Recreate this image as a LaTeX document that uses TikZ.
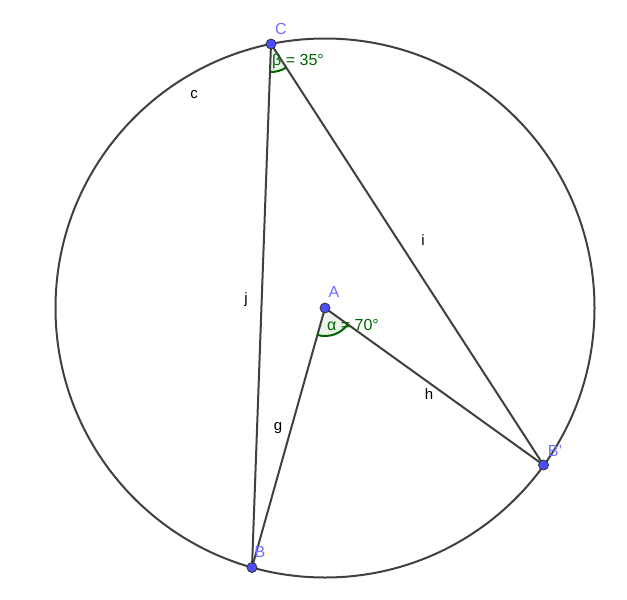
\documentclass[tikz,border=0pt]{standalone}
\usepackage{fontspec}
\setmainfont{Liberation Sans}
\usetikzlibrary{angles,quotes}
\definecolor{seg}{RGB}{64,64,64}
\definecolor{ptfill}{RGB}{77,77,255}
\definecolor{ptlab}{RGB}{110,110,255}
\definecolor{anggreen}{RGB}{0,100,0}
\tikzset{
  segline/.style={draw=seg, line width=2pt},
  ptdot/.style={circle, fill=ptfill, draw=black!80, line width=0.8pt, inner sep=0pt, minimum size=10pt},
  ptlabel/.style={text=ptlab, font=\fontsize{16}{18}\selectfont, inner sep=0pt},
  seglabel/.style={text=black, font=\fontsize{15}{17}\selectfont, inner sep=0pt},
  anglabel/.style={text=anggreen, font=\fontsize{16}{18}\selectfont, inner sep=0pt},
  angmark/.style={draw=anggreen, line width=2pt, fill=anggreen, fill opacity=0.08, angle radius=28pt}
}
\begin{document}
\begin{tikzpicture}[x=1pt,y=-1pt]
\useasboundingbox (0,0) rectangle (627,600);
\coordinate (A) at (325,308);
\coordinate (B) at (252,567.5);
\coordinate (C) at (271,44);
\coordinate (Bp) at (543.5,465);
\draw[segline] (A) circle (269.5);
\draw[segline] (C) -- (B);
\draw[segline] (C) -- (Bp);
\draw[segline] (A) -- (B);
\draw[segline] (A) -- (Bp);
\pic[angmark] {angle = B--C--Bp};
\pic[angmark] {angle = B--A--Bp};
\node[anglabel] (beta) at (298,61) {β = 35°};
\node[anglabel] (alpha) at (353,325) {α = 70°};
\node[seglabel] (lc) at (194,95) {c};
\node[seglabel] (lj) at (246,300) {j};
\node[seglabel] (li) at (423,240) {i};
\node[seglabel] (lh) at (429,394) {h};
\node[seglabel] (lg) at (278,428) {g};
\node[ptdot] (pA) at (A) {};
\node[ptdot] (pB) at (B) {};
\node[ptdot] (pC) at (C) {};
\node[ptdot] (pBp) at (Bp) {};
\node[ptlabel] (tC) at (281,29) {C};
\node[ptlabel] (tA) at (334,292) {A};
\node[ptlabel] (tBp) at (555,451) {B'};
\node[ptlabel] (tB) at (260,552) {B};
\end{tikzpicture}
\end{document}
